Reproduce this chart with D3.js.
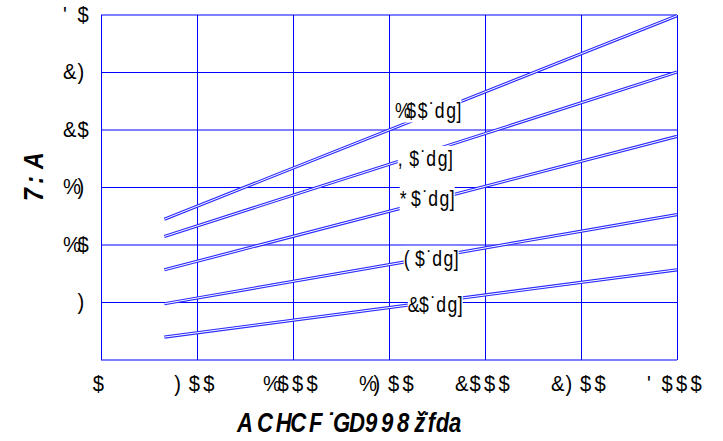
<!DOCTYPE html>
<html>
<head>
<meta charset="utf-8">
<script src="https://cdn.jsdelivr.net/npm/d3@7"></script>
<style>
body { margin: 0; background: #fff; }
text { font-family: "Liberation Sans", Arial, sans-serif; fill: #000; }
</style>
</head>
<body>
<svg width="723" height="441"></svg>
<script>
// data (labels kept as they render)
const speeds = [330, 3000];
const cfm100 = [12.2, 29.9];
const cfm80 = [10.7, 25.0];
const cfm60 = [7.8, 19.4];
const cfm40 = [4.85, 12.6];
const cfm20 = [1.95, 7.8];
const seriesLabels = ["%$$˙dg]", ",$˙dg]", "*$˙dg]", "($˙dg]", "&$˙dg]"];
// where each label sits, in data units
const labelRpm = [1703, 1688, 1698, 1719, 1740];
const labelCfm = [21.65, 17.5, 14.0, 8.8, 4.8];

const xTicks = [0, 500, 1000, 1500, 2000, 2500, 3000];
const xTickLabels = ["$", ")$$", "%$$$", "%)$$", "&$$$", "&)$$", "'$$$"];
const yTicks = [5, 10, 15, 20, 25, 30];
const yTickLabels = [")", "%$", "%)", "&$", "&)", "'$"];
const yGrid = [0, 5, 10, 15, 20, 25, 30];
const xTitle = "ACHCF˙GD998ž˙fda";
const yTitle = "7:A";

const series = [cfm100, cfm80, cfm60, cfm40, cfm20];

const svg = d3.select("svg");
const x = d3.scaleLinear().domain([0, 3000]).range([101, 677]);
const y = d3.scaleLinear().domain([0, 30]).range([359.5, 14.5]);

// advance widths (em) of the glyph slots
const advEm = {
    "%": .556, "$": .556, "&": .556, "'": .556, "(": .556, ")": .556, "*": .556, ",": .556,
    "˙": .278, "d": .556, "g": .5, "]": .222,
    "A": .833, "C": .778, "H": .611, "F": .722, "G": .667, "D": .667, "9": .667, "8": .722,
    "ž": .278, "f": .333, "a": .833, "7": .722, ":": .611
};

function total(str, advFn) {
    let s = 0;
    for (const ch of str) s += advFn(ch);
    return s;
}
// one char per slot; sx squeezes the glyphs sideways
function spell(parent, str, transform, size, advFn, sx) {
    const t = parent.append("text")
        .attr("transform", transform + ` scale(${sx},1)`)
        .attr("font-size", size);
    let cx = 0;
    for (const ch of str) {
        t.append("tspan").attr("x", cx / sx).text(ch);
        cx += advFn(ch);
    }
    return t;
}

// grid
svg.append("g")
    .attr("transform", "translate(0,359.5)")
    .call(d3.axisBottom(x).tickValues(xTicks).tickSize(-345).tickFormat(""))
    .call(g => g.select(".domain").remove())
    .selectAll("line").attr("stroke", "#0000ff").attr("shape-rendering", "crispEdges");
svg.append("g")
    .attr("transform", "translate(101,0)")
    .call(d3.axisLeft(y).tickValues(yGrid).tickSize(-576).tickFormat(""))
    .call(g => g.select(".domain").remove())
    .selectAll("line").attr("stroke", "#0000ff");

// tick labels
const tickAdv = () => 14.5;
xTicks.forEach((v, i) => {
    const s = xTickLabels[i];
    const x0 = x(v) - 1 - total(s, tickAdv) / 2;
    spell(svg, s, `translate(${x0},391)`, 22, tickAdv, 0.92);
});
yTicks.forEach((v, i) => {
    const s = yTickLabels[i];
    const x0 = 92 - total(s, tickAdv);
    spell(svg, s, `translate(${x0},${y(v) + 7})`, 22, tickAdv, 0.92);
});

// the pressure lines, drawn as a double line
const line = d3.line().x((d, i) => x(speeds[i])).y(d => y(d));
series.forEach(vals => {
    svg.append("path").attr("d", line(vals))
        .attr("fill", "none").attr("stroke", "#2b2bff").attr("stroke-width", 3.2);
    svg.append("path").attr("d", line(vals))
        .attr("fill", "none").attr("stroke", "#fff").attr("stroke-width", 1);
});

// line labels on a white patch
const labAdv = ch => (advEm[ch] || .556) * 20.5;
const labSx = 0.8;
seriesLabels.forEach((s, i) => {
    const w = total(s, labAdv);
    const x0 = x(labelRpm[i]) - w / 2;
    const yb = y(labelCfm[i]) + 7.5;
    const g = svg.append("g").attr("transform", `translate(${x0},${yb})`);
    const bg = g.append("rect").attr("fill", "#fff");
    const t = spell(g, s, "", 22, labAdv, labSx);
    const b = t.node().getBBox();
    bg.attr("x", b.x * labSx).attr("y", b.y)
        .attr("width", b.width * labSx).attr("height", b.height);
});

// axis titles
const titleAdv = ch => (advEm[ch] || .6) * 24;
spell(svg, xTitle, "translate(237,432)", 27, titleAdv, 0.82)
    .attr("font-style", "italic").attr("font-weight", "bold");

spell(svg, yTitle, `translate(43,${175 + total(yTitle, titleAdv) / 2}) rotate(-90)`, 27, titleAdv, 0.85)
    .attr("font-style", "italic").attr("font-weight", "bold");
</script>
</body>
</html>
